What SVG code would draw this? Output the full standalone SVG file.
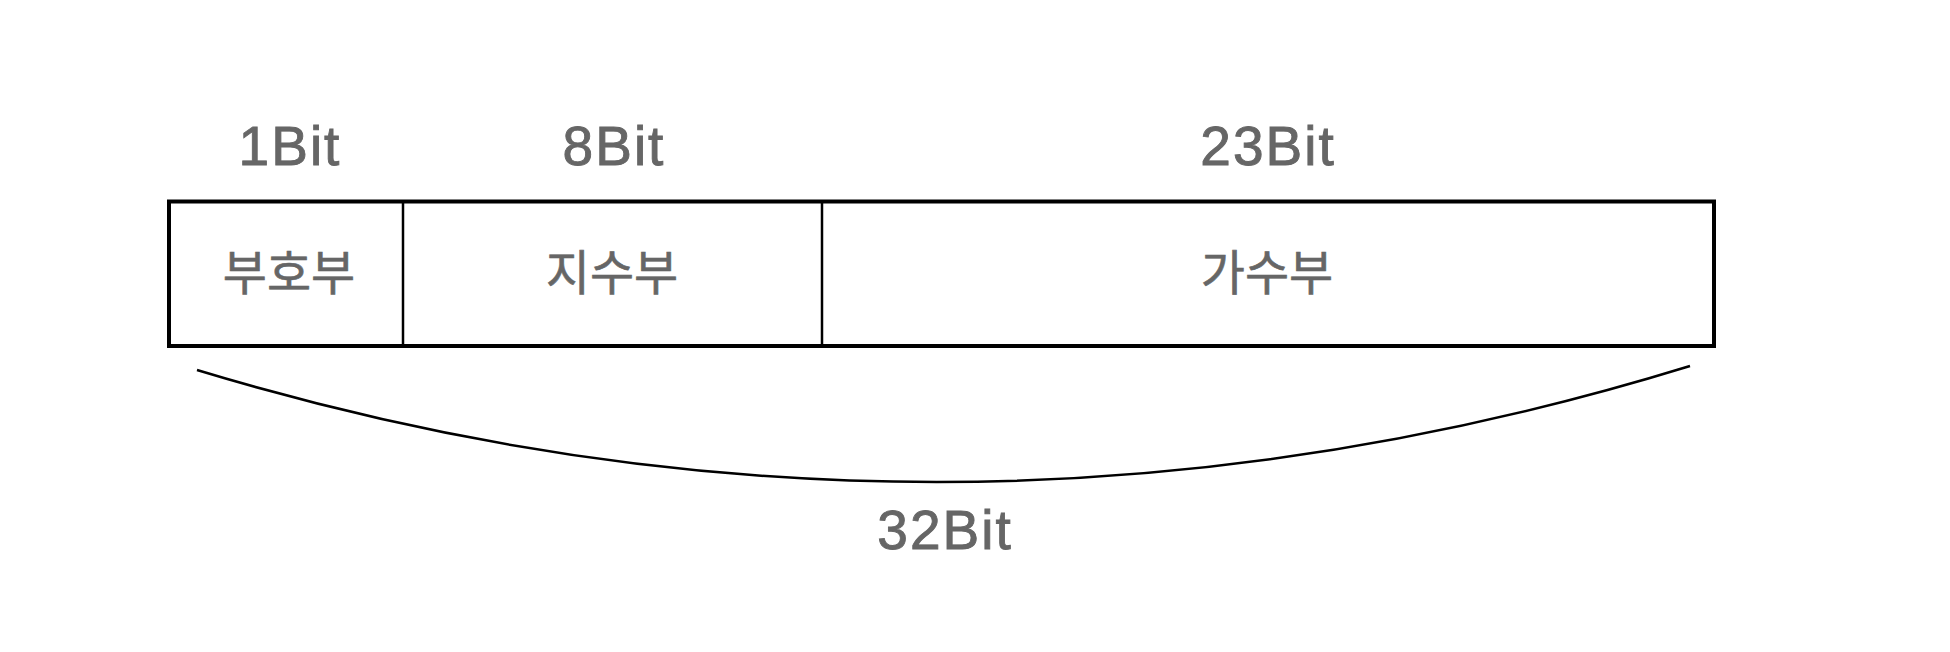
<svg xmlns="http://www.w3.org/2000/svg" width="1950" height="652" viewBox="0 0 1950 652">
<style>
.lbl{font-family:"Liberation Sans","Noto Sans CJK KR",sans-serif;font-size:55px;letter-spacing:2px;fill:#666;stroke:#666;stroke-width:0.9;text-anchor:middle}
.kr{font-family:"Noto Sans CJK KR","Liberation Sans",sans-serif;font-size:48px;fill:#666;stroke:#666;stroke-width:0.6;text-anchor:middle}
.box{fill:#fff;stroke:#000;stroke-width:4}
.div{stroke:#000;stroke-width:2.5;fill:none}
</style>
<rect width="1950" height="652" fill="#fff"/>
<g id="frame">
<rect class="box" x="169" y="201.5" width="1545" height="144.5"/>
</g>
<g id="sign">
<text class="lbl" x="290" y="165">1Bit</text>
<text class="kr" x="289" y="290">부호부</text>
</g>
<g id="exponent">
<line class="div" x1="403" y1="201.5" x2="403" y2="346"/>
<text class="lbl" x="614" y="165">8Bit</text>
<text class="kr" x="612" y="290">지수부</text>
</g>
<g id="mantissa">
<line class="div" x1="822" y1="201.5" x2="822" y2="346"/>
<text class="lbl" x="1268" y="165">23Bit</text>
<text class="kr" x="1267" y="290">가수부</text>
</g>
<g id="connectors">
<path class="div" d="M197 370 Q943 596 1690 366"/>
</g>
<g id="total">
<text class="lbl" x="945" y="549">32Bit</text>
</g>
</svg>
